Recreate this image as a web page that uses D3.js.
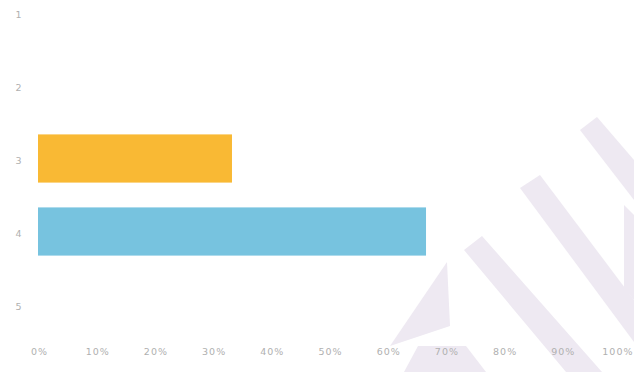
<!DOCTYPE html>
<html>
<head>
<meta charset="utf-8">
<script src="https://cdn.jsdelivr.net/npm/d3@7"></script>
<style>
  body { margin: 0; background: #fff; }
  svg { display: block; }
  .axis text { font-family: "DejaVu Sans", sans-serif; font-size: 9.5px; fill: #b0b0b0; letter-spacing: 1px; }
</style>
</head>
<body>
<svg id="canvas"></svg>
<script>
// ########## Data ##########
categories = ["1", "2", "3", "4", "5"];
values = [0, 0, 33.33, 66.67, 0];      // percent of responses
barColors = ["#f9b934", "#f9b934", "#f9b934", "#77c3df", "#77c3df"];
xTicks = [0, 10, 20, 30, 40, 50, 60, 70, 80, 90, 100];

// faint lavender watermark in the background (decoration, not data)
watermark = [
    [[580, 130], [597, 117], [634, 160], [634, 200]],
    [[520, 188], [540, 175], [634, 300], [634, 342]],
    [[464, 250], [482, 236], [602, 372], [566, 372]],
    [[447, 262], [450, 326], [390, 346]],
    [[418, 346], [466, 346], [486, 372], [404, 372]],
    [[624, 205], [634, 215], [634, 300], [624, 288]]
];

w = 634;
h = 372;

svg = d3.select("#canvas")
    .attr("width", w)
    .attr("height", h);

// ########## Watermark ##########
svg.append("g")
    .selectAll("polygon")
    .data(watermark)
    .enter().append("polygon")
    .attr("points", function (d) { return d.join(" "); })
    .attr("fill", "#eee9f2");

// ########## Scales ##########
x = d3.scaleLinear()
    .domain([0, 100])
    .range([38, 620]);

y = d3.scaleBand()
    .domain(categories)
    .range([-24, 341])
    .paddingInner(0.34)
    .paddingOuter(0.17);

// ########## Bars ##########
svg.append("g")
    .selectAll("rect")
    .data(categories)
    .enter().append("rect")
    .attr("x", x(0))
    .attr("y", function (d) { return y(d); })
    .attr("height", y.bandwidth())
    .attr("width", function (d, i) { return x(values[i]) - x(0); })
    .attr("fill", function (d, i) { return barColors[i]; });

// ########## Axes ##########
yAxis = svg.append("g")
    .attr("class", "axis")
    .attr("transform", "translate(19,2)")
    .call(d3.axisLeft(y).tickSize(0).tickPadding(0));
yAxis.select(".domain").remove();
yAxis.selectAll("text").attr("text-anchor", "middle");

xAxis = svg.append("g")
    .attr("class", "axis")
    .attr("transform", "translate(1,348)")
    .call(d3.axisBottom(x).tickValues(xTicks).tickSize(0).tickPadding(0)
        .tickFormat(function (d) { return d + "%"; }));
xAxis.select(".domain").remove();
// keep the last label inside the picture
xAxis.selectAll(".tick text")
    .filter(function (d) { return d === 100; })
    .attr("text-anchor", "end")
    .attr("x", w - 1 - x(100) - 1);
</script>
</body>
</html>
